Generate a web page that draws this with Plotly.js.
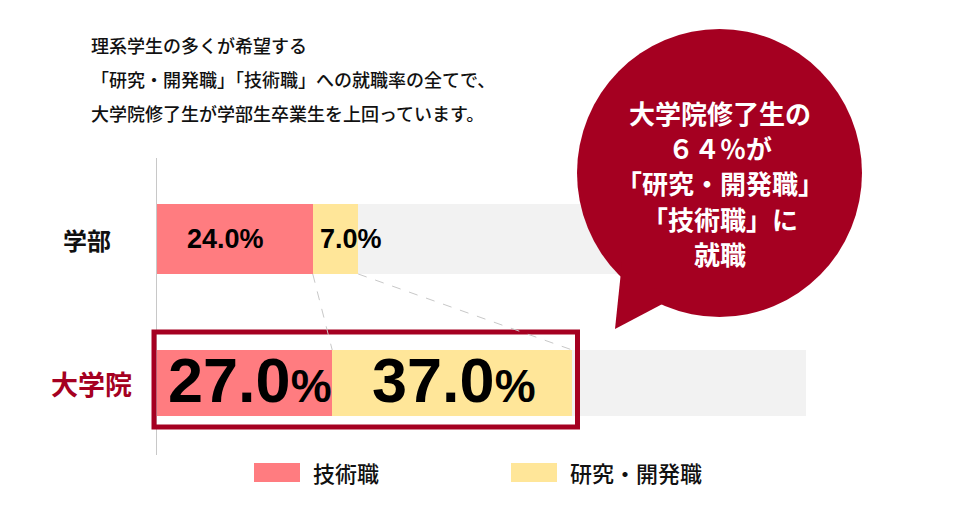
<!DOCTYPE html>
<html>
<head>
<meta charset="utf-8">
<script src="https://cdn.plot.ly/plotly-3.0.1.min.js"></script>
<style>html,body{margin:0;padding:0;background:#fff;}#chart{width:968px;height:524px;}</style>
</head>
<body>
<div id="chart"></div>
<script>
// ---- data ----
const categories = ['学部', '大学院'];
const seriesNames = ['技術職', '研究・開発職'];
const techValues = [24.0, 27.0];
const researchValues = [7.0, 37.0];
const totalScale = 100;
const noteLines = [
  '理系学生の多くが希望する',
  '「研究・開発職」「技術職」への就職率の全てで、',
  '大学院修了生が学部生卒業生を上回っています。'
];
const bubbleLines = ['大学院修了生の', '６４％が', '「研究・開発職」', '「技術職」に', '就職'];

// ---- styles ----
const FONT = '"Noto Sans CJK JP", "Noto Sans", sans-serif';
const NUMFONT = '"Liberation Sans", Arial, sans-serif';
const C_TECH = '#FF7C80', C_RES = '#FFE699', C_REST = '#F2F2F2', C_DARK = '#A50021';

// pixel helpers (plot area)
const W = 968, H = 524, L = 157, R = 806, T = 158, B = 455;
const px = x => (x - L) / (R - L);
const py = y => (B - y) / (B - T);

const catOrder = categories.slice().reverse(); // 大学院 bottom, 学部 top
const idx = c => catOrder.indexOf(c);
const barWidths = [0.486, 0.458];
const restValues = categories.map((c, i) => totalScale - techValues[i] - researchValues[i]);

const traces = [
  {type: 'bar', orientation: 'h', y: categories, x: techValues, name: seriesNames[0],
   width: barWidths, marker: {color: C_TECH}, hoverinfo: 'skip', textposition: 'none'},
  {type: 'bar', orientation: 'h', y: categories, x: researchValues, name: seriesNames[1],
   width: barWidths, marker: {color: C_RES}, hoverinfo: 'skip', textposition: 'none'},
  {type: 'bar', orientation: 'h', y: categories, x: restValues, name: 'rest', showlegend: false,
   width: barWidths, marker: {color: C_REST}, hoverinfo: 'skip', textposition: 'none'}
];

const annotations = [];
const shapes = [];

// value labels
const labelShift = {'学部': [-9, 5], '大学院': [5, 2]};
categories.forEach((c, j) => {
  const big = c === '大学院';
  [techValues, researchValues].forEach((vals, s) => {
    const base = s === 0 ? 0 : techValues[j];
    const v = vals[j];
    const txt = big
      ? v.toFixed(1) + '<span style="font-size:46px">%</span>'
      : v.toFixed(1) + '%';
    const narrow = !big && v < 10;
    annotations.push({
      xref: 'x', yref: 'y', x: narrow ? base : base + v / 2, y: idx(c),
      xanchor: narrow ? 'left' : 'center', yanchor: 'middle',
      xshift: labelShift[c][s], yshift: big ? 3 : 0,
      text: txt, showarrow: false,
      font: {family: NUMFONT, size: big ? 63 : 27, color: '#000', weight: 'bold'}
    });
  });
});

// category labels
categories.forEach(c => {
  const big = c === '大学院';
  annotations.push({
    xref: 'paper', yref: 'y', x: px(big ? 91 : 87), y: idx(c), xanchor: 'center', yanchor: 'middle',
    text: c, showarrow: false,
    font: {family: FONT, size: big ? 27 : 24, color: big ? C_DARK : '#111', weight: 'bold'}
  });
});

// note lines
const noteY = [45, 79, 113];
noteLines.forEach((t, i) => {
  annotations.push({
    xref: 'paper', yref: 'paper', x: px(89), y: py(noteY[i]), xanchor: 'left', yanchor: 'middle',
    text: t, showarrow: false, font: {family: FONT, size: 18, color: '#111', weight: 500}
  });
});

// bubble
shapes.push({type: 'circle', xref: 'paper', yref: 'paper', layer: 'above',
  x0: px(577), x1: px(862), y0: py(317), y1: py(29), fillcolor: C_DARK, line: {width: 0}});
shapes.push({type: 'path', xref: 'paper', yref: 'paper', layer: 'above',
  path: `M ${px(622)} ${py(262)} L ${px(615)} ${py(329)} L ${px(670)} ${py(300)} Z`,
  fillcolor: C_DARK, line: {width: 0}});
const bubbleY = [113, 147, 182, 218, 253];
bubbleLines.forEach((t, i) => {
  annotations.push({
    xref: 'paper', yref: 'paper', x: px(720), y: py(bubbleY[i]), xanchor: 'center', yanchor: 'middle',
    text: t, showarrow: false, borderpad: 0,
    font: {family: FONT, size: 26, color: '#fff', weight: 'bold'}
  });
});

// highlight box around graduate row
shapes.push({type: 'rect', xref: 'paper', yref: 'paper', layer: 'above',
  x0: px(154), x1: px(577.5), y0: py(427), y1: py(332),
  line: {color: C_DARK, width: 5}, fillcolor: 'rgba(0,0,0,0)'});

// dashed connectors between the two rows
const topRow = '学部', botRow = '大学院';
const tI = categories.indexOf(topRow), bI = categories.indexOf(botRow);
const edgesTop = [techValues[tI], techValues[tI] + researchValues[tI]];
const edgesBot = [techValues[bI], techValues[bI] + researchValues[bI]];
edgesTop.forEach((e, k) => {
  shapes.push({type: 'line', xref: 'x', yref: 'y', layer: 'above',
    x0: e, y0: idx(topRow) - barWidths[tI] / 2,
    x1: edgesBot[k], y1: idx(botRow) + barWidths[bI] / 2,
    line: {color: '#c8c8c8', width: 1, dash: 'dash'}});
});

// custom legend
const legendItems = [
  {sx: 254, tx: 311, color: C_TECH},
  {sx: 511, tx: 568, color: C_RES}
];
seriesNames.forEach((n, i) => {
  const it = legendItems[i];
  shapes.push({type: 'rect', xref: 'paper', yref: 'paper', layer: 'above',
    x0: px(it.sx), x1: px(it.sx + 46), y0: py(482), y1: py(463),
    fillcolor: it.color, line: {width: 0}});
  annotations.push({xref: 'paper', yref: 'paper', x: px(it.tx), y: py(472.5),
    xanchor: 'left', yanchor: 'middle', text: n, showarrow: false,
    font: {family: FONT, size: 22, color: '#111', weight: 500}});
});

const layout = {
  width: W, height: H,
  margin: {l: L, r: W - R, t: T, b: H - B, pad: 0},
  paper_bgcolor: '#fff', plot_bgcolor: '#fff',
  barmode: 'stack', showlegend: false,
  font: {family: FONT},
  xaxis: {range: [0, totalScale], visible: false, fixedrange: true},
  yaxis: {type: 'category', categoryorder: 'array', categoryarray: catOrder,
    range: [-0.5, 1.5625], showticklabels: false, ticks: '', showgrid: false, zeroline: false,
    showline: true, linecolor: '#c8c8c8', linewidth: 1, fixedrange: true},
  shapes: shapes, annotations: annotations
};

Plotly.newPlot('chart', traces, layout, {displayModeBar: false, staticPlot: true});
</script>
</body>
</html>
